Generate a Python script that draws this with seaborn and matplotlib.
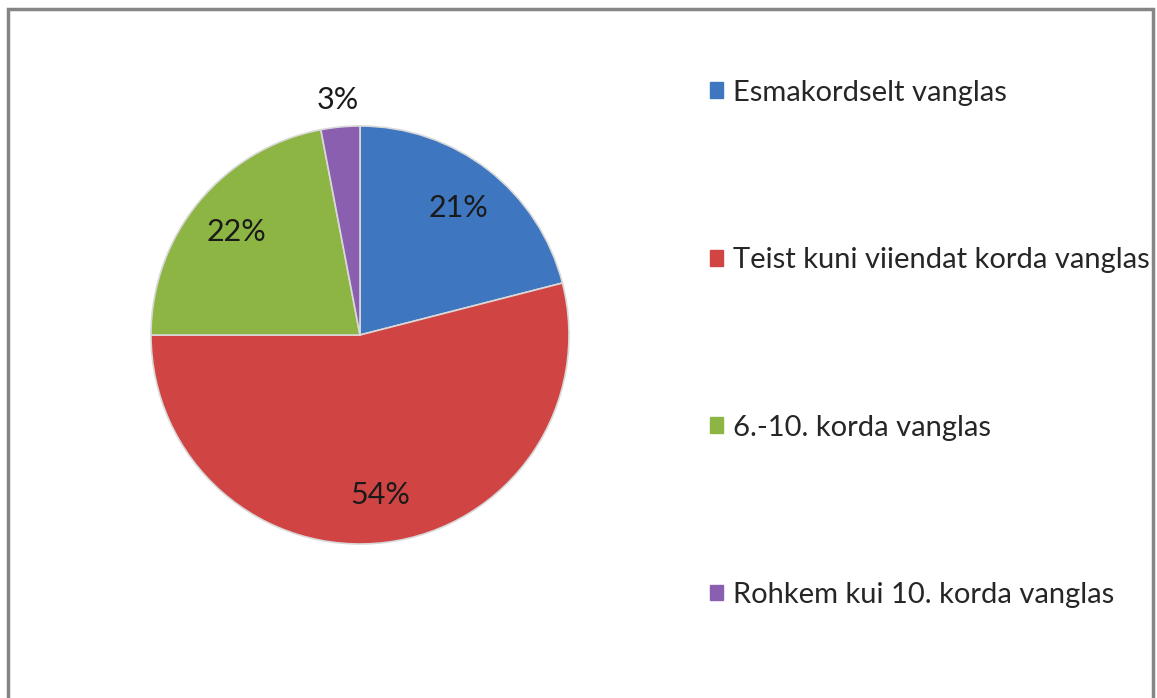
import numpy as np
import matplotlib
matplotlib.use("Agg")
import matplotlib.pyplot as plt
import matplotlib.patches as mpatches
import seaborn as sns

# andmed
categories = ["Esmakordselt vanglas", "Teist kuni viiendat korda vanglas",
              "6.-10. korda vanglas", "Rohkem kui 10. korda vanglas"]
shares = [21, 54, 22, 3]
pct_labels = ["21%", "54%", "22%", "3%"]
colors = ["#3F76C0", "#D04543", "#8DB543", "#8B5FB0"]

sns.set_theme(style="white")
plt.rcParams['font.family'] = ['Lato', 'DejaVu Sans']

fig = plt.figure(figsize=(11.57, 6.98), dpi=100)
W, H = 1157, 698

# pirukas
cx, cy, r = 360, 335, 209
ax = fig.add_axes([(cx - r) / W, (H - cy - r) / H, 2 * r / W, 2 * r / H])
pal = sns.color_palette(colors)
wedges, _ = ax.pie(shares, colors=pal, startangle=90, counterclock=False,
                   wedgeprops=dict(edgecolor="#d9d9d9", linewidth=1.2))
ax.set_xlim(-1, 1)
ax.set_ylim(-1, 1)
ax.set_aspect("equal")
ax.axis("off")

# protsendid
for w, lab in zip(wedges, pct_labels):
    mid = np.deg2rad((w.theta1 + w.theta2) / 2)
    frac = (w.theta2 - w.theta1) / 360
    dist = 1.13 if frac < 0.05 else 0.77
    ax.text(dist * np.cos(mid), dist * np.sin(mid), lab, ha="center", va="center",
            fontsize=22, color="#1a1a1a")

# legend
handles = [mpatches.Patch(facecolor=c, edgecolor=c) for c in colors]
leg = fig.legend(handles, categories, loc="upper left",
                 bbox_to_anchor=(698 / W, 1 - 68 / H), frameon=False,
                 fontsize=21, handlelength=0.45, handleheight=0.45,
                 handletextpad=0.35, labelspacing=4.85, borderaxespad=0)

# raam
border = mpatches.Rectangle((8 / W, -0.05), 1145 / W, 1.05 - 9 / H,
                            transform=fig.transFigure, fill=False,
                            edgecolor="#858585", linewidth=2.5, clip_on=False)
fig.patches.append(border)

fig.savefig("out.png", dpi=100)
